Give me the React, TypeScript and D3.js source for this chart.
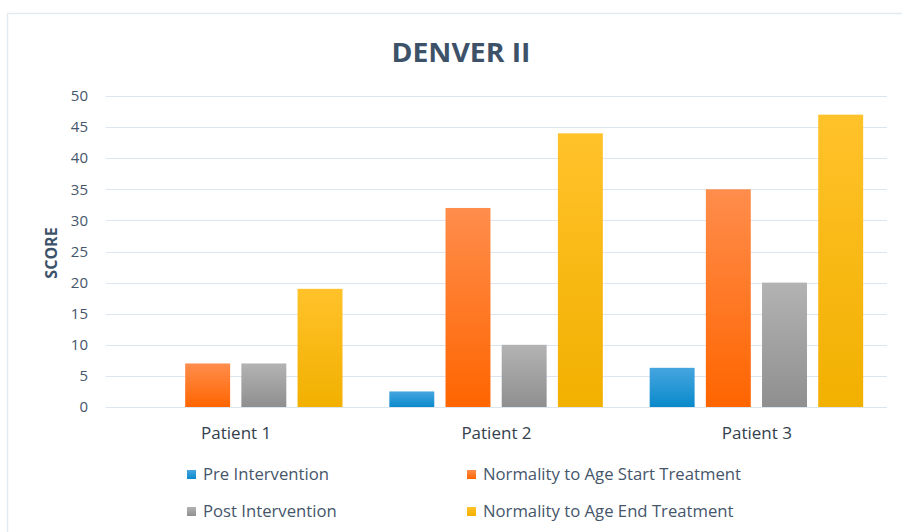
import { useEffect, useRef } from 'react';
import * as d3 from 'd3';

const patients = ['Patient 1', 'Patient 2', 'Patient 3'];
const seriesNames = [
  'Pre Intervention',
  'Normality to Age Start Treatment',
  'Post Intervention',
  'Normality to Age End Treatment',
];
const preIntervention = [0, 2.5, 6.3];
const startTreatment = [7, 32, 35];
const postIntervention = [7, 10, 20];
const endTreatment = [19, 44, 47];
const yTicks = [0, 5, 10, 15, 20, 25, 30, 35, 40, 45, 50];

// top / bottom colours of each bar gradient
const gradients = [
  ['#46a5df', '#0a8acb'],
  ['#ff8d4c', '#ff6500'],
  ['#b3b3b3', '#8f8f8f'],
  ['#ffc22a', '#f2b000'],
];

export default function App() {
  const svgRef = useRef<SVGSVGElement>(null);

  useEffect(() => {
    if (!svgRef.current) return;
    const width = 902;
    const height = 532;
    const svg = d3.select(svgRef.current);
    svg.selectAll('*').remove();
    svg.attr('width', width).attr('height', height);

    const values = [preIntervention, startTreatment, postIntervention, endTreatment];
    const font = '"Open Sans", Lato, sans-serif';

    const defs = svg.append('defs');
    gradients.forEach((g, i) => {
      const lg = defs.append('linearGradient')
        .attr('id', `grad${i}`)
        .attr('x1', 0).attr('y1', 0).attr('x2', 0).attr('y2', 1);
      lg.append('stop').attr('offset', '0%').attr('stop-color', g[0]);
      lg.append('stop').attr('offset', '100%').attr('stop-color', g[1]);
    });

    svg.append('rect').attr('width', width).attr('height', height).attr('fill', '#fff');

    // outer chart frame
    svg.append('rect')
      .attr('x', 7.5).attr('y', 13.5)
      .attr('width', 1000).attr('height', 600)
      .attr('fill', 'none')
      .attr('stroke', '#e2eaef')
      .attr('stroke-width', 1.5);

    // title
    svg.append('text')
      .attr('x', 461).attr('y', 62)
      .attr('text-anchor', 'middle')
      .attr('font-family', '"Open Sans", sans-serif')
      .attr('font-weight', 700)
      .attr('font-size', 27)
      .attr('fill', '#3d5269')
      .attr('textLength', 139)
      .attr('lengthAdjust', 'spacingAndGlyphs')
      .text('DENVER II');

    const x0 = d3.scaleBand().domain(patients).range([106, 887]).paddingInner(0).paddingOuter(0);
    const x1 = d3.scaleBand().domain(seriesNames).range([23, 236.5]).paddingInner(0.2).paddingOuter(0);
    const y = d3.scaleLinear().domain([0, 50]).range([407, 96]);

    // gridlines
    svg.append('g').selectAll('line').data(yTicks).join('line')
      .attr('x1', 106).attr('x2', 887)
      .attr('y1', (d) => Math.round(y(d)) + 0.5)
      .attr('y2', (d) => Math.round(y(d)) + 0.5)
      .attr('stroke', '#dde5ee')
      .attr('stroke-width', 1.2);

    // y tick labels
    svg.append('g').selectAll('text').data(yTicks).join('text')
      .attr('x', 88)
      .attr('y', (d) => y(d))
      .attr('dy', '0.35em')
      .attr('text-anchor', 'end')
      .attr('font-family', font)
      .attr('font-size', 15)
      .attr('fill', '#45566b')
      .text((d) => d);

    // y axis title
    svg.append('text')
      .attr('transform', `translate(57, 253) rotate(-90)`)
      .attr('text-anchor', 'middle')
      .attr('font-family', font)
      .attr('font-weight', 700)
      .attr('font-size', 16)
      .attr('fill', '#3d5269')
      .text('SCORE');

    // bars
    seriesNames.forEach((name, si) => {
      svg.append('g').selectAll('rect').data(patients).join('rect')
        .attr('x', (p) => (x0(p) as number) + (x1(name) as number))
        .attr('y', (_, i) => y(values[si][i]))
        .attr('width', x1.bandwidth())
        .attr('height', (_, i) => y(0) - y(values[si][i]))
        .attr('fill', `url(#grad${si})`);
    });

    // x labels
    svg.append('g').selectAll('text').data(patients).join('text')
      .attr('x', (p) => (x0(p) as number) + x0.bandwidth() / 2)
      .attr('y', 439)
      .attr('text-anchor', 'middle')
      .attr('font-family', font)
      .attr('font-size', 17)
      .attr('fill', '#333f4c')
      .text((d) => d);

    // legend
    const legendPos = [
      [187, 474],
      [467, 474],
      [187, 511],
      [467, 511],
    ];
    seriesNames.forEach((name, si) => {
      const [lx, ly] = legendPos[si];
      svg.append('rect')
        .attr('x', lx).attr('y', ly - 4)
        .attr('width', 9).attr('height', 9)
        .attr('fill', `url(#grad${si})`);
      svg.append('text')
        .attr('x', lx + 16).attr('y', ly)
        .attr('dy', '0.35em')
        .attr('font-family', font)
        .attr('font-size', 16.7)
        .attr('fill', '#45566b')
        .text(name);
    });
  }, []);

  return (
    <div style={{ position: 'absolute', left: 0, top: 0 }}>
      <svg ref={svgRef} style={{ display: 'block' }} />
    </div>
  );
}
